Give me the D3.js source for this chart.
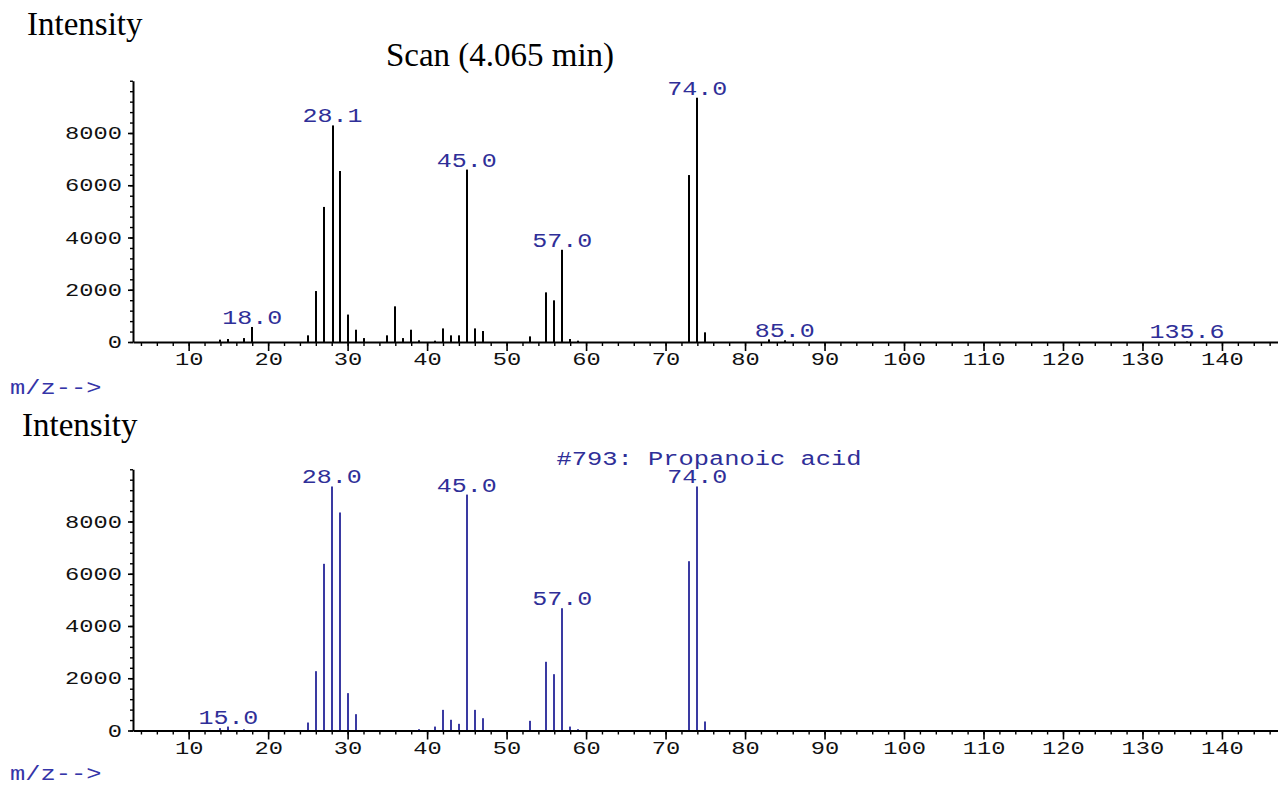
<!DOCTYPE html>
<html><head><meta charset="utf-8">
<script src="https://cdn.jsdelivr.net/npm/d3@7"></script>
<style>body{margin:0;background:#fff;} svg{display:block;}</style>
</head><body>
<svg id="chart" width="1278" height="785"></svg>
<script>
// ---- data ----
const scanMz  = [14,15,17,18,25,26,27,28.1,29,30,31,32,35,36,37,38,39,41,42,43,44,45,46,47,53,55,56,57,58,59,73,74,75,83,85,135.6];
const scanInt = [90,115,150,575,255,1950,5170,8290,6545,1050,470,150,255,1365,150,470,65,50,520,255,255,6600,520,420,215,1900,1595,3530,115,50,6390,9350,370,100,65,20];
const scanLabels = [18.0, 28.1, 45.0, 57.0, 74.0, 85.0, 135.6];

const libMz  = [14,15,17,25,26,27,28,29,30,31,39,41,42,43,44,45,46,47,53,55,56,57,58,59,73,74,75];
const libInt = [90,150,50,305,2270,6380,9340,8345,1430,625,50,150,790,410,255,9030,790,470,370,2630,2155,4680,150,50,6480,9340,345];
const libLabels = [15.0, 28.0, 45.0, 57.0, 74.0];

const xMajorTicks = [10,20,30,40,50,60,70,80,90,100,110,120,130,140];
const xMinorTicks = d3.range(4, 147, 2);
const yMajorTicks = [0,2000,4000,6000,8000];
const yMinorTicks = d3.range(0, 10001, 400);

const titleTop = "Scan (4.065 min)";
const titleBottom = "#793: Propanoic acid";
const yTitle = "Intensity";
const xTitle = "m/z-->";

// ---- setup ----
const svg = d3.select("#chart");
const MONO = "'Liberation Mono', 'Courier New', monospace";
const SERIF = "'Liberation Serif', 'Times New Roman', serif";
const LABEL_BLUE = "#2f2f98";

const x = d3.scaleLinear().domain([3, 147]).range([133, 1277.6]);
const fmt1 = d3.format(".1f");

function panel(base, mz, inten, labels, barColor, xTitleY) {
  const y = d3.scaleLinear().domain([0, 10000]).range([base, base - 261.25]);
  const g = svg.append("g");

  // bars
  g.selectAll("rect.bar").data(mz.map((m, i) => ({m, v: inten[i]})))
    .join("rect")
    .attr("x", d => Math.round(x(d.m)) - 1)
    .attr("width", 2)
    .attr("y", d => y(d.v))
    .attr("height", d => base - y(d.v))
    .attr("fill", barColor);

  // x axis minor
  g.append("g").attr("transform", `translate(0,${base})`)
    .call(d3.axisBottom(x).tickValues(xMinorTicks).tickSize(4).tickSizeOuter(0).tickFormat(""))
    .call(a => a.select(".domain").remove())
    .call(a => a.selectAll("line").attr("stroke", "#000").attr("stroke-width", 1.4));
  // x axis major
  g.append("g").attr("transform", `translate(0,${base})`)
    .call(d3.axisBottom(x).tickValues(xMajorTicks).tickSize(9).tickSizeOuter(0).tickFormat(d3.format("d")))
    .call(a => a.select(".domain").attr("stroke", "#000").attr("stroke-width", 1.8))
    .call(a => a.selectAll("line").attr("stroke", "#000").attr("stroke-width", 1.6))
    .call(a => a.selectAll("text")
      .attr("x", 0).attr("y", 0).attr("dy", 0)
      .attr("transform", "translate(0,23) scale(1.32,1)")
      .attr("font-family", MONO).attr("font-size", 18).attr("fill", "#111")
      .attr("text-anchor", "middle"));

  // y axis minor
  g.append("g").attr("transform", "translate(133,0)")
    .call(d3.axisLeft(y).tickValues(yMinorTicks).tickSize(3).tickSizeOuter(0).tickFormat(""))
    .call(a => a.select(".domain").remove())
    .call(a => a.selectAll("line").attr("stroke", "#000").attr("stroke-width", 1.4));
  // y axis major
  g.append("g").attr("transform", "translate(133,0)")
    .call(d3.axisLeft(y).tickValues(yMajorTicks).tickSize(5).tickSizeOuter(0).tickFormat(d3.format("d")))
    .call(a => a.select(".domain").attr("stroke", "#000").attr("stroke-width", 2))
    .call(a => a.selectAll("line").attr("stroke", "#000").attr("stroke-width", 1.6))
    .call(a => a.selectAll("text")
      .attr("x", 0).attr("dy", 0).attr("y", 0)
      .attr("transform", "translate(-11,5.5) scale(1.32,1)")
      .attr("font-family", MONO).attr("font-size", 18).attr("fill", "#111")
      .attr("text-anchor", "end"));

  // peak labels
  labels.forEach(L => {
    let idx = 0, best = Infinity;
    mz.forEach((m, i) => { const d = Math.abs(m - L); if (d < best) { best = d; idx = i; } });
    g.append("text")
      .attr("transform", `translate(${x(mz[idx])},${y(inten[idx]) - 3}) scale(1.25,1)`)
      .attr("text-anchor", "middle")
      .attr("font-family", MONO).attr("font-size", 20)
      .attr("fill", LABEL_BLUE)
      .text(fmt1(L));
  });

  // x title
  g.append("text")
    .attr("transform", `translate(10,${xTitleY}) scale(1.27,1)`)
    .attr("font-family", MONO).attr("font-size", 20)
    .attr("fill", "#3535a8")
    .text(xTitle);
  return y;
}

panel(342, scanMz, scanInt, scanLabels, "#000", 393.5);
panel(730.5, libMz, libInt, libLabels, "#3a3aa2", 780);

// titles
svg.append("text").attr("x", 27).attr("y", 35)
  .attr("font-family", SERIF).attr("font-size", 33).attr("fill", "#000").text(yTitle);
svg.append("text").attr("x", 22).attr("y", 436)
  .attr("font-family", SERIF).attr("font-size", 33).attr("fill", "#000").text(yTitle);
svg.append("text").attr("x", 500).attr("y", 66).attr("text-anchor", "middle")
  .attr("font-family", SERIF).attr("font-size", 33).attr("fill", "#000").text(titleTop);
svg.append("text")
  .attr("transform", "translate(709,465) scale(1.27,1)")
  .attr("text-anchor", "middle")
  .attr("font-family", MONO).attr("font-size", 20)
  .attr("fill", LABEL_BLUE)
  .text(titleBottom);
</script>
</body></html>
